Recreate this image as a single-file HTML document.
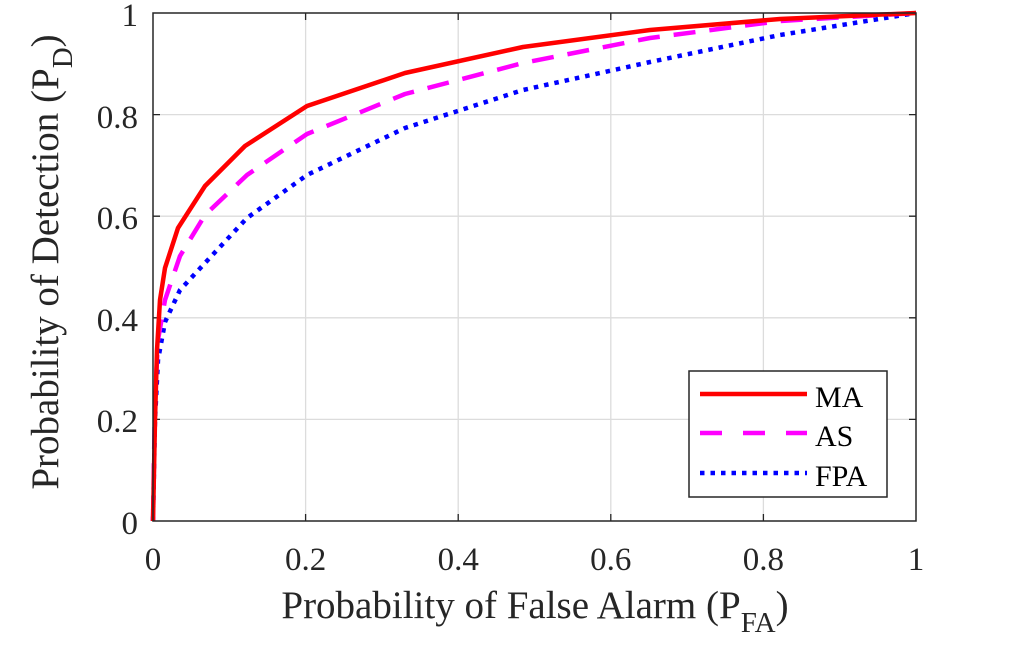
<!DOCTYPE html>
<html><head><meta charset="utf-8"><style>body{margin:0;background:#fff}svg{display:block}</style></head>
<body>
<svg width="1009" height="653" xmlns="http://www.w3.org/2000/svg" font-family="'Liberation Serif',serif" fill="#262626">
<rect width="1009" height="653" fill="#fff"/>
<g stroke="#dcdcdc" stroke-width="1.3">
<line x1="305.6" y1="13" x2="305.6" y2="521"/><line x1="458.2" y1="13" x2="458.2" y2="521"/>
<line x1="610.8" y1="13" x2="610.8" y2="521"/><line x1="763.4" y1="13" x2="763.4" y2="521"/>
<line x1="153" y1="419.4" x2="916" y2="419.4"/><line x1="153" y1="317.8" x2="916" y2="317.8"/>
<line x1="153" y1="216.2" x2="916" y2="216.2"/><line x1="153" y1="114.6" x2="916" y2="114.6"/>
</g>
<g stroke="#262626" stroke-width="1.3">
<path d="M305.6 521v-7M458.2 521v-7M610.8 521v-7M763.4 521v-7M305.6 13v7M458.2 13v7M610.8 13v7M763.4 13v7"/>
<path d="M153 419.4h7M153 317.8h7M153 216.2h7M153 114.6h7M916 419.4h-7M916 317.8h-7M916 216.2h-7M916 114.6h-7"/>
</g>
<g fill="none" stroke-width="4.5" stroke-linejoin="round">
<polyline stroke="#0000ff" stroke-dasharray="4.5,6" points="153,521 155,420 158,360 165,322 180,290 205,263 247,218 307,175 405,128 523,90 650,62 780,35 916,13"/>
<polyline stroke="#ff00ff" stroke-dasharray="22,14" points="153,521 155,400 158,340 165,300 180,256 205,215 247,175 307,134 405,94 523,63 650,38 780,21 916,13"/>
<polyline stroke="#ff0000" points="153,521 155,420 157,350 160,300 165,268 178,228 205,186 245,146 307,106 405,73 523,47 650,30 780,19 916,13"/>
</g>
<rect x="153" y="13" width="763" height="508" fill="none" stroke="#262626" stroke-width="1.5"/>
<g font-size="33" text-anchor="end">
<text x="138" y="534">0</text><text x="138" y="432">0.2</text><text x="138" y="331">0.4</text>
<text x="138" y="229">0.6</text><text x="138" y="128">0.8</text><text x="138" y="26">1</text>
</g>
<g font-size="33" text-anchor="middle">
<text x="153" y="570">0</text><text x="305.6" y="570">0.2</text><text x="458.2" y="570">0.4</text>
<text x="610.8" y="570">0.6</text><text x="763.4" y="570">0.8</text><text x="916" y="570">1</text>
</g>
<text x="535" y="618" font-size="39" text-anchor="middle">Probability of False Alarm (P<tspan font-size="29" dy="14">FA</tspan><tspan dy="-14">)</tspan></text>
<text transform="translate(58,262) rotate(-90)" font-size="39" text-anchor="middle">Probability of Detection (P<tspan font-size="29" dy="14">D</tspan><tspan dy="-14">)</tspan></text>
<rect x="689" y="371" width="198" height="126" fill="#fff" stroke="#262626" stroke-width="1.5"/>
<line x1="700" y1="394" x2="807" y2="394" stroke="#ff0000" stroke-width="4.5"/>
<line x1="700" y1="433" x2="807" y2="433" stroke="#ff00ff" stroke-width="4.5" stroke-dasharray="22,21"/>
<line x1="700" y1="473" x2="807" y2="473" stroke="#0000ff" stroke-width="4.5" stroke-dasharray="4.5,6"/>
<g font-size="30" fill="#000"><text x="815" y="407">MA</text><text x="815" y="446">AS</text><text x="815" y="486">FPA</text></g>
</svg>
</body></html>
